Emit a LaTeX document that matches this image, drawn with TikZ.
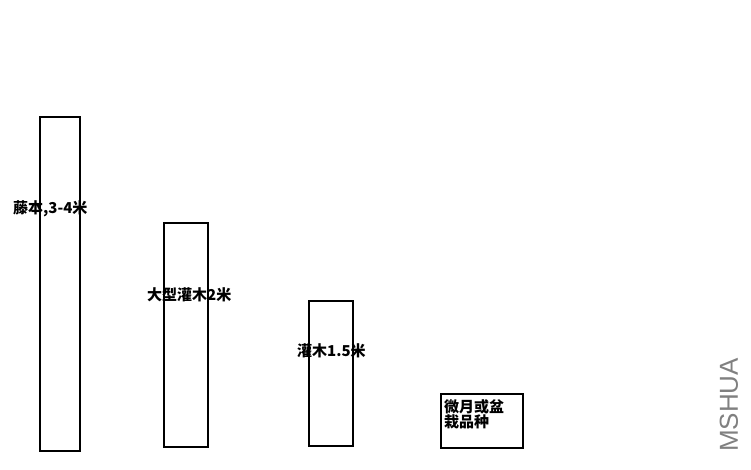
\documentclass[tikz,border=0pt]{standalone}
\usepackage{fontspec}
\setsansfont{Liberation Sans}
\newfontfamily\cjk{Noto Sans CJK SC}
\tikzset{
  bar/.style={draw, line width=2.8pt, inner sep=0pt},
  tag/.style={font=\cjk\bfseries\fontsize{15}{15}\selectfont, inner sep=0pt}
}
\begin{document}
\begin{tikzpicture}[x=1pt, y=-1pt]
  \useasboundingbox (0, 0) rectangle (751, 470);

  \node [bar, minimum width=40, minimum height=334] (tengben) at (60, 284) {};
  \node [tag, anchor = west] (tengbenl) at (13, 209) {藤本,3-4米};

  \node [bar, minimum width=44, minimum height=224] (dadx) at (186, 335) {};
  \node [tag, anchor = west] (dadxl) at (147, 295) {大型灌木2米};

  \node [bar, minimum width=44, minimum height=145] (guanmu) at (331, 373.5) {};
  \node [tag, anchor = west] (guanmul) at (297, 351) {灌木1.5米};

  \node [bar, minimum width=82, minimum height=54] (weiyue) at (482, 421) {};
  \node [tag, anchor = north west, align = left] (weiyuel) at (444, 399) {微月或盆\\栽品种};

  \node [font=\sffamily\fontsize{26}{26}\selectfont, gray, rotate=90, inner sep=0pt] (mark) at (729, 405) {MSHUA};
\end{tikzpicture}
\end{document}
